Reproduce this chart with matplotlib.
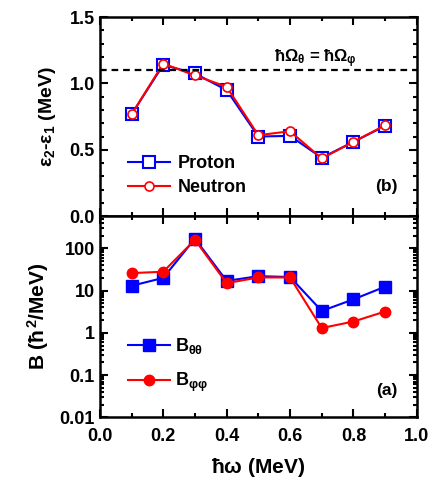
import numpy as np
import matplotlib.pyplot as plt
from matplotlib.ticker import MultipleLocator, LogLocator, NullFormatter

plt.rcParams['font.family'] = ['Liberation Sans', 'DejaVu Sans']
plt.rcParams['font.weight'] = 'bold'
plt.rcParams['axes.labelweight'] = 'bold'
plt.rcParams['mathtext.fontset'] = 'custom'
plt.rcParams['mathtext.rm'] = 'Liberation Sans:bold'
plt.rcParams['mathtext.it'] = 'Liberation Sans:bold'
plt.rcParams['mathtext.bf'] = 'Liberation Sans:bold'

hw = [0.1, 0.2, 0.3, 0.4, 0.5, 0.6, 0.7, 0.8, 0.9]

# energy gap eps2 - eps1
proton = [0.767, 1.14, 1.075, 0.95, 0.60, 0.605, 0.44, 0.56, 0.68]
neutron = [0.767, 1.15, 1.06, 0.975, 0.61, 0.64, 0.435, 0.56, 0.685]
crossing = 1.1

# mass parameters
b_tt = [13, 20, 170, 17, 22, 21, 3.3, 6.2, 12.4]
b_pp = [26, 28, 160, 15, 20.5, 20.5, 1.3, 1.85, 3.2]

xticks = [0.0, 0.2, 0.4, 0.6, 0.8, 1.0]
xticklabels = ['0.0', '0.2', '0.4', '0.6', '0.8', '1.0']
yticks_top = [0.0, 0.5, 1.0, 1.5]
yticklabels_top = ['0.0', '0.5', '1.0', '1.5']
yticks_bot = [0.01, 0.1, 1, 10, 100]
yticklabels_bot = ['0.01', '0.1', '1', '10', '100']

fig = plt.figure(figsize=(4.36, 4.88), dpi=100)
ax1 = fig.add_axes([0.229, 0.557, 0.727, 0.408])
ax2 = fig.add_axes([0.229, 0.145, 0.727, 0.412])

blue = '#0000ff'
red = '#ff0000'
fs = 13

def style(ax):
    for s in ax.spines.values():
        s.set_linewidth(1.8)
    ax.tick_params(which='both', direction='in', top=True, right=True, width=1.5,
                   labelsize=fs)
    ax.tick_params(which='major', length=6)
    ax.tick_params(which='minor', length=3)
    ax.set_xlim(0, 1.0)
    ax.set_xticks(xticks)
    ax.xaxis.set_minor_locator(MultipleLocator(0.1))

# top panel
ax1.plot(hw, proton, '-', color=blue, lw=1.5, marker='s', ms=8, mfc='white',
         mec=blue, mew=1.5, label='Proton')
ax1.plot(hw, neutron, '-', color=red, lw=1.5, marker='o', ms=6.5, mfc='white',
         mec=red, mew=1.2, label='Neutron')
ax1.axhline(crossing, color='black', ls=(0, (3, 2.2)), lw=1.6)
ax1.text(0.548, 1.16, r'$\hbar\Omega_\theta$ = $\hbar\Omega_\varphi$', fontsize=12)
ax1.text(0.94, 0.19, '(b)', fontsize=12.5, ha='right')
style(ax1)
ax1.set_ylim(0, 1.5)
ax1.set_yticks(yticks_top, yticklabels_top)
ax1.yaxis.set_minor_locator(MultipleLocator(0.1))
ax1.set_xticklabels([])
ax1.set_ylabel(r'$\varepsilon_2$-$\varepsilon_1$ (MeV)', fontsize=14, labelpad=8)
ax1.legend(loc='lower left', bbox_to_anchor=(0.09, 0.1), frameon=False,
           borderaxespad=0, borderpad=0,
           fontsize=13, handlelength=2.3, handletextpad=0.45, labelspacing=0.4)

# bottom panel
ax2.semilogy(hw, b_tt, '-', color=blue, lw=1.5, marker='s', ms=9, mfc=blue,
             mec=blue, label=r'B$_{\theta\theta}$')
ax2.semilogy(hw, b_pp, '-', color=red, lw=1.5, marker='o', ms=7.5, mfc=red,
             mec=red, label=r'B$_{\varphi\varphi}$')
ax2.text(0.94, 0.034, '(a)', fontsize=12.5, ha='right')
style(ax2)
ax2.set_ylim(0.01, 580)
ax2.set_yticks(yticks_bot, yticklabels_bot)
ax2.yaxis.set_minor_locator(LogLocator(base=10, subs=np.arange(2, 10)))
ax2.yaxis.set_minor_formatter(NullFormatter())
ax2.set_xticklabels(xticklabels)
ax2.tick_params(axis='x', pad=8)
ax2.set_ylabel(r'B ($\hbar^2$/MeV)', fontsize=15, labelpad=6)
ax2.set_xlabel(r'$\hbar\omega$ (MeV)', fontsize=15, labelpad=8)
ax2.legend(loc='lower left', bbox_to_anchor=(0.09, 0.115), frameon=False,
           borderaxespad=0, borderpad=0,
           fontsize=13, handlelength=2.3, handletextpad=0.3, labelspacing=0.8)

fig.align_ylabels([ax1, ax2])
plt.savefig('out.png', dpi=100)
plt.close()
